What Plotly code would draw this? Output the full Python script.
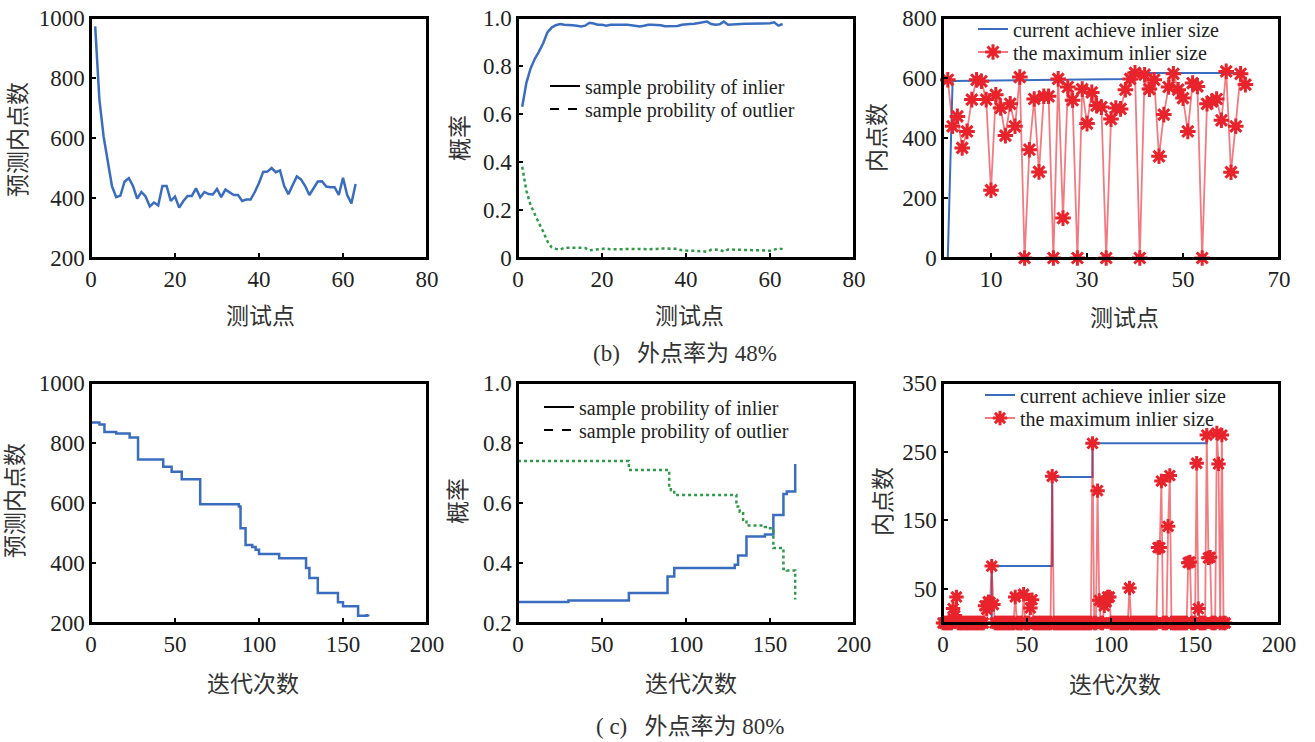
import plotly.graph_objects as go

W, H = 1315, 742

# ---------------- (b) outlier rate 48% ----------------
b_pred = [972, 728, 605, 528, 439, 403, 408, 455, 466, 440,
          398, 420, 405, 372, 385, 375, 440, 440, 390, 405,
          368, 390, 407, 407, 432, 402, 420, 413, 412, 430,
          403, 428, 420, 410, 410, 390, 395, 395, 420, 450,
          487, 488, 500, 486, 492, 440, 413, 440, 472, 462,
          440, 410, 435, 455, 456, 438, 436, 436, 410, 467,
          410, 382, 447]
b_inlier = [0.63, 0.73, 0.79, 0.83, 0.86, 0.895, 0.94, 0.96, 0.97, 0.975,
            0.972, 0.972, 0.97, 0.968, 0.965, 0.968, 0.98, 0.977, 0.972, 0.972,
            0.968, 0.972, 0.972, 0.973, 0.975, 0.972, 0.97, 0.968, 0.965, 0.968,
            0.972, 0.972, 0.972, 0.97, 0.966, 0.966, 0.966, 0.967, 0.972, 0.975,
            0.975, 0.976, 0.978, 0.982, 0.985, 0.975, 0.972, 0.974, 0.985, 0.972,
            0.972, 0.972, 0.975, 0.976, 0.976, 0.976, 0.976, 0.976, 0.976, 0.978,
            0.982, 0.968, 0.975]
b_outlier = [0.38, 0.28, 0.22, 0.18, 0.145, 0.11, 0.07, 0.045, 0.038, 0.035,
             0.042, 0.043, 0.043, 0.045, 0.043, 0.042, 0.032, 0.034, 0.036, 0.038,
             0.04, 0.036, 0.035, 0.035, 0.036, 0.038, 0.038, 0.04, 0.04, 0.037,
             0.036, 0.036, 0.038, 0.04, 0.04, 0.04, 0.04, 0.038, 0.032, 0.03,
             0.03, 0.03, 0.03, 0.028, 0.026, 0.034, 0.035, 0.034, 0.027, 0.035,
             0.035, 0.034, 0.033, 0.032, 0.032, 0.032, 0.032, 0.032, 0.032, 0.03,
             0.035, 0.04, 0.037]
b_max = [594, 439, 472, 367, 422, 528, 594, 589, 528, 226,
         544, 500, 408, 514, 439, 603, 0, 361, 530, 287,
         539, 539, 0, 597, 133, 570, 526, 0, 563, 448,
         552, 508, 503, 0, 463, 500, 497, 561, 597, 617,
         0, 611, 563, 594, 339, 478, 570, 614, 561, 533,
         422, 583, 572, 0, 514, 522, 530, 459, 622, 286,
         439, 614, 578]
b_cur_x = [1, 2, 24, 39, 40, 63]
b_cur_y = [0, 590, 594, 597, 617, 617]
b_x = list(range(1, len(b_pred) + 1))

# ---------------- (c) outlier rate 80% ----------------
c_pred_x = [0, 5, 8, 15, 23, 28, 43, 48, 54, 65, 88, 89, 92, 96, 98, 100, 112, 128, 130, 135, 147, 150, 159, 164, 165]
c_pred_y = [868, 862, 837, 832, 818, 745, 721, 704, 679, 596, 588, 516, 460, 453, 444, 430, 416, 383, 350, 300, 269, 256, 224, 226, 228]
c_in_x = [0, 30, 66, 89, 93, 129, 131, 136, 147, 152, 158, 160, 165]
c_in_y = [0.27, 0.275, 0.30, 0.355, 0.383, 0.394, 0.425, 0.488, 0.495, 0.56, 0.63, 0.638, 0.73]
c_out_x = [0, 66, 90, 91, 93, 130, 132, 134, 136, 147, 150, 152, 158, 160, 165]
c_out_y = [0.74, 0.71, 0.654, 0.643, 0.627, 0.588, 0.571, 0.544, 0.525, 0.52, 0.516, 0.45, 0.38, 0.375, 0.278]
c_iters = 169
c_spike_x = [6, 7, 8, 25, 26, 27, 28, 29, 30, 43, 48, 52, 53, 65, 89, 92, 93, 96, 97, 98, 99, 111,
             128, 129, 130, 134, 135, 146, 147, 151, 152, 157, 158, 159, 163, 164, 166]
c_spike_y = [21, 11, 38, 25, 20, 31, 30, 83, 27, 38, 42, 22, 34, 214, 262, 193, 33, 25, 31, 38, 38, 51,
             110, 110, 207, 141, 215, 88, 89, 233, 21, 274, 95, 96, 277, 232, 274]
c_cur_x = [0, 29, 65, 89, 157, 166]
c_cur_y = [0, 83, 213, 262, 274, 274]

c_max = [0] * c_iters
for sx, sy in zip(c_spike_x, c_spike_y):
    c_max[sx] = sy
c_x = list(range(c_iters))

BLUE = "#3a6dbf"
GREEN = "#2f9a48"
RED = "#e8232b"
RED_LINE = "rgba(232,35,43,0.6)"
FRAME = "black"
FONT = "Liberation Serif, Noto Sans CJK SC"
STAR = dict(symbol="asterisk-open", size=13, color=RED, line=dict(color=RED, width=3))

cols = [(91, 427), (518, 854), (943, 1279)]
rows = [(18, 258), (383, 623)]

xcfg = [
    dict(range=[0, 80], tickvals=[0, 20, 40, 60, 80]),
    dict(range=[0, 80], tickvals=[0, 20, 40, 60, 80]),
    dict(range=[0, 70], tickvals=[10, 30, 50, 70]),
    dict(range=[0, 200], tickvals=[0, 50, 100, 150, 200]),
    dict(range=[0, 200], tickvals=[0, 50, 100, 150, 200]),
    dict(range=[0, 200], tickvals=[0, 50, 100, 150, 200]),
]
ycfg = [
    dict(range=[200, 1000], tickvals=[200, 400, 600, 800, 1000]),
    dict(range=[0, 1], tickvals=[0, 0.2, 0.4, 0.6, 0.8, 1.0], ticktext=["0", "0.2", "0.4", "0.6", "0.8", "1.0"]),
    dict(range=[0, 800], tickvals=[0, 200, 400, 600, 800]),
    dict(range=[200, 1000], tickvals=[200, 400, 600, 800, 1000]),
    dict(range=[0.2, 1.0], tickvals=[0.2, 0.4, 0.6, 0.8, 1.0], ticktext=["0.2", "0.4", "0.6", "0.8", "1.0"]),
    dict(range=[0, 350], tickvals=[50, 150, 250, 350]),
]


def px_x(a, b):
    return [a / W, b / W]


def px_y(top, bottom):
    return [1 - bottom / H, 1 - top / H]


fig = go.Figure()

# panel 1
fig.add_trace(go.Scatter(x=b_x, y=b_pred, mode="lines", line=dict(color=BLUE, width=2.5),
                         showlegend=False, xaxis="x", yaxis="y"))
# panel 2
fig.add_trace(go.Scatter(x=b_x, y=b_inlier, mode="lines", line=dict(color=BLUE, width=2.5),
                         showlegend=False, xaxis="x2", yaxis="y2"))
fig.add_trace(go.Scatter(x=b_x, y=b_outlier, mode="lines", line=dict(color=GREEN, width=2.5, dash="dot"),
                         showlegend=False, xaxis="x2", yaxis="y2"))
fig.add_trace(go.Scatter(x=[None], y=[None], mode="lines", line=dict(color="black", width=2),
                         name="sample probility of inlier", legend="legend", xaxis="x2", yaxis="y2"))
fig.add_trace(go.Scatter(x=[None], y=[None], mode="lines", line=dict(color="black", width=2, dash="dash"),
                         name="sample probility of outlier", legend="legend2", xaxis="x2", yaxis="y2"))
# panel 3
fig.add_trace(go.Scatter(x=b_cur_x, y=b_cur_y, mode="lines", line=dict(color=BLUE, width=2),
                         name="current achieve inlier size", legend="legend3", xaxis="x3", yaxis="y3"))
fig.add_trace(go.Scatter(x=b_x, y=b_max, mode="lines+markers", line=dict(color=RED_LINE, width=1.8),
                         marker=STAR, cliponaxis=False,
                         name="the maximum inlier size", legend="legend4", xaxis="x3", yaxis="y3"))
# panel 4
fig.add_trace(go.Scatter(x=c_pred_x, y=c_pred_y, mode="lines", line=dict(color=BLUE, width=2.5, shape="hv"),
                         showlegend=False, xaxis="x4", yaxis="y4"))
# panel 5
fig.add_trace(go.Scatter(x=c_in_x, y=c_in_y, mode="lines", line=dict(color=BLUE, width=2.5, shape="hv"),
                         showlegend=False, xaxis="x5", yaxis="y5"))
fig.add_trace(go.Scatter(x=c_out_x, y=c_out_y, mode="lines", line=dict(color=GREEN, width=2.5, dash="dot", shape="hv"),
                         showlegend=False, xaxis="x5", yaxis="y5"))
fig.add_trace(go.Scatter(x=[None], y=[None], mode="lines", line=dict(color="black", width=2),
                         name="sample probility of inlier", legend="legend5", xaxis="x5", yaxis="y5"))
fig.add_trace(go.Scatter(x=[None], y=[None], mode="lines", line=dict(color="black", width=2, dash="dash"),
                         name="sample probility of outlier", legend="legend6", xaxis="x5", yaxis="y5"))
# panel 6
fig.add_trace(go.Scatter(x=c_cur_x, y=c_cur_y, mode="lines", line=dict(color=BLUE, width=2, shape="hv"),
                         name="current achieve inlier size", legend="legend7", xaxis="x6", yaxis="y6"))
fig.add_trace(go.Scatter(x=c_x, y=c_max, mode="lines+markers", line=dict(color=RED_LINE, width=1.8),
                         marker=dict(STAR, size=12), cliponaxis=False,
                         name="the maximum inlier size", legend="legend8", xaxis="x6", yaxis="y6"))

axis_common = dict(showline=True, linecolor=FRAME, linewidth=1.5, mirror=True,
                   ticks="inside", ticklen=5, tickwidth=2, tickcolor=FRAME,
                   showgrid=False, zeroline=False, automargin=False,
                   tickfont=dict(family=FONT, size=23, color="#222"))

layout = dict(template="none", width=W, height=H,
              margin=dict(l=0, r=0, t=0, b=0, pad=0, autoexpand=False), autosize=False,
              paper_bgcolor="white", plot_bgcolor="rgba(0,0,0,0)", font=dict(family=FONT, color="#222"))

shapes = []
for i in range(6):
    r, c = divmod(i, 3)
    suffix = "" if i == 0 else str(i + 1)
    xd, yd = px_x(*cols[c]), px_y(*rows[r])
    layout["xaxis" + suffix] = dict(axis_common, domain=xd, anchor="y" + suffix, **xcfg[i])
    layout["yaxis" + suffix] = dict(axis_common, domain=yd, anchor="x" + suffix, **ycfg[i])
    # frame in paper coordinates (unclipped)
    shapes.append(dict(type="rect", xref="paper", yref="paper", x0=xd[0], x1=xd[1], y0=yd[0], y1=yd[1],
                       line=dict(color=FRAME, width=2), fillcolor="rgba(0,0,0,0)", layer="above"))
layout["shapes"] = shapes

leg_common = dict(bgcolor="rgba(0,0,0,0)", font=dict(family=FONT, size=20, color="#222"),
                  xanchor="left", yanchor="middle", borderwidth=0)
# (text start x, row centre y) for each single-entry legend
leg_pos = [(585, 86), (585, 109), (1013, 29), (1013, 52),
           (579, 407), (579, 430), (1020, 395), (1020, 418)]
for k, (tx, ty) in enumerate(leg_pos):
    key = "legend" if k == 0 else "legend%d" % (k + 1)
    layout[key] = dict(leg_common, x=(tx - 40) / W, y=1 - ty / H)

fig.update_layout(**layout)

ann = []
ytitles = [("预测内点数", 19, 140), ("概率", 460, 138), ("内点数", 877, 138),
           ("预测内点数", 16, 501), ("概率", 459, 501), ("内点数", 883, 502)]
for t, x, y in ytitles:
    ann.append(dict(text=t, x=x / W, y=1 - y / H, xref="paper", yref="paper", showarrow=False,
                    textangle=-90, font=dict(family=FONT, size=23, color="#333"),
                    xanchor="center", yanchor="middle"))
xtitles = [("测试点", 260, 316), ("测试点", 689, 316), ("测试点", 1124, 318),
           ("迭代次数", 253, 684), ("迭代次数", 691, 684), ("迭代次数", 1115, 685)]
for t, x, y in xtitles:
    ann.append(dict(text=t, x=x / W, y=1 - y / H, xref="paper", yref="paper", showarrow=False,
                    font=dict(family=FONT, size=23, color="#333"), xanchor="center", yanchor="middle"))
captions = [("(b)   外点率为 48%", 685, 353), ("( c)   外点率为 80%", 690, 726)]
for t, x, y in captions:
    ann.append(dict(text=t, x=x / W, y=1 - y / H, xref="paper", yref="paper", showarrow=False,
                    font=dict(family=FONT, size=23, color="#333"), xanchor="center", yanchor="middle"))
fig.update_layout(annotations=ann)

fig.write_html("out.html", config={"displayModeBar": False},
               post_script="document.body.style.margin='0px';document.body.style.overflow='hidden';")
